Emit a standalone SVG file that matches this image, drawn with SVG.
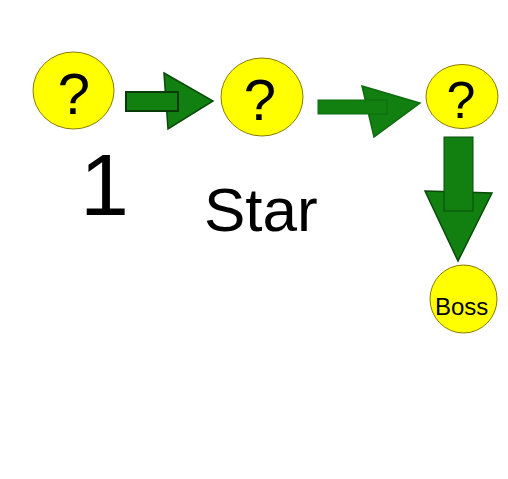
<svg xmlns="http://www.w3.org/2000/svg" width="508" height="479" viewBox="0 0 508 479">
<style>
.node{fill:#ffff00;stroke:#8a7a00;stroke-width:1}
.q{font-family:"Liberation Sans",Arial,sans-serif;font-size:58px;fill:#000;text-anchor:middle}
.hand{font-family:"Liberation Sans",Arial,sans-serif;fill:#000}
.head{fill:#118011;stroke:#0a4a0a;stroke-width:1.5}
.shaft{fill:#118011;stroke:#0a3a0a;stroke-width:2}
.shaft2{fill:#118011;stroke:#0f6a0f;stroke-width:1}
</style>
<rect width="508" height="479" fill="#ffffff"/>
<g id="connectors">
  <g id="arrow1">
    <polygon class="head" points="164,73 213,101 168,129"/>
    <rect class="shaft" x="126" y="92" width="52" height="19"/>
  </g>
  <g id="arrow2">
    <polygon class="head" style="stroke:#0f6a0f" points="362,86 420,103 374,137"/>
    <rect class="shaft2" x="318" y="100" width="69" height="14"/>
  </g>
  <g id="arrow3">
    <polygon class="head" points="425,191 492,193 458,261"/>
    <rect class="shaft2" style="stroke:#0a4a0a" x="444" y="137" width="29" height="74"/>
  </g>
</g>
<g id="node1">
  <ellipse class="node" cx="73.5" cy="90.5" rx="40.5" ry="38.5"/>
  <text class="q" x="74" y="114">?</text>
</g>
<g id="node2">
  <ellipse class="node" cx="262" cy="97" rx="41" ry="39"/>
  <text class="q" x="260" y="120">?</text>
</g>
<g id="node3">
  <ellipse class="node" cx="462" cy="96.5" rx="36" ry="32"/>
  <text class="q" style="font-size:52px" x="461" y="118">?</text>
</g>
<g id="node4">
  <ellipse class="node" cx="463.5" cy="299" rx="33.5" ry="34"/>
  <text class="hand" x="435" y="315" style="font-size:24px">Boss</text>
</g>
<text class="hand" x="80" y="215" style="font-size:88px">1</text>
<text class="hand" x="204" y="231" style="font-size:62px">Star</text>
</svg>
